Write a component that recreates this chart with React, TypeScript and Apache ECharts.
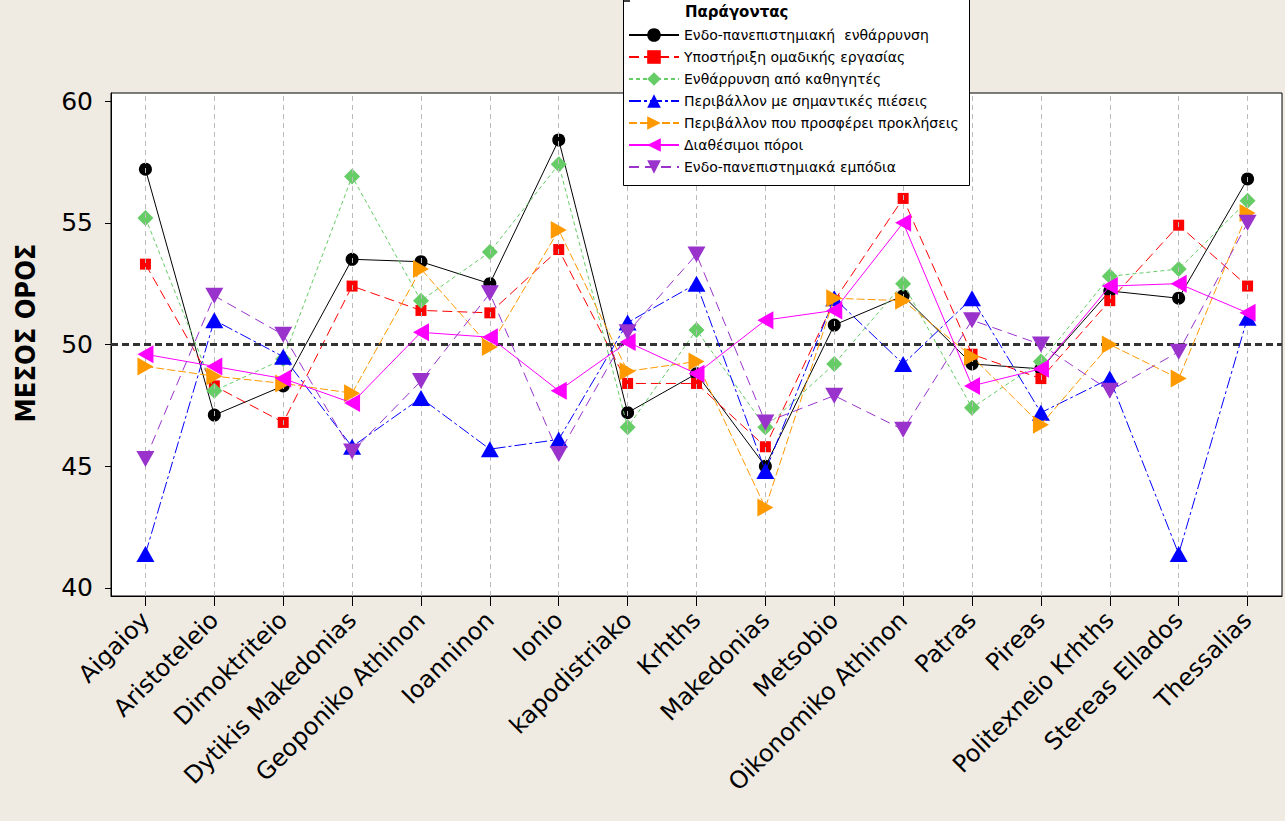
import React, { useEffect, useRef } from "react";
import * as echarts from "echarts";

const categories = [
  "Aigaioy", "Aristoteleio", "Dimoktriteio", "Dytikis Makedonias", "Geoponiko Athinon",
  "Ioanninon", "Ionio", "kapodistriako", "Krhths", "Makedonias", "Metsobio",
  "Oikonomiko Athinon", "Patras", "Pireas", "Politexneio Krhths", "Stereas Ellados", "Thessalias",
];

const seriesNames = [
  "Ενδο-πανεπιστημιακή  ενθάρρυνση",
  "Υποστήριξη ομαδικής εργασίας",
  "Ενθάρρυνση από καθηγητές",
  "Περιβάλλον με σημαντικές πιέσεις",
  "Περιβάλλον που προσφέρει προκλήσεις",
  "Διαθέσιμοι πόροι",
  "Ενδο-πανεπιστημιακά εμπόδια",
];

const encouragementInternal = [57.2, 47.1, 48.3, 53.5, 53.4, 52.5, 58.4, 47.2, 48.8, 45.0, 50.8, 52.0, 49.2, 49.0, 52.2, 51.9, 56.8];
const teamworkSupport = [53.3, 48.3, 46.8, 52.4, 51.4, 51.3, 53.9, 48.4, 48.4, 45.8, 51.8, 56.0, 49.6, 48.6, 51.8, 54.9, 52.4];
const professorEncouragement = [55.2, 48.1, 49.4, 56.9, 51.8, 53.8, 57.4, 46.6, 50.6, 46.6, 49.2, 52.5, 47.4, 49.3, 52.8, 53.1, 55.9];
const pressureEnvironment = [41.4, 51.0, 49.5, 45.8, 47.8, 45.7, 46.1, 50.9, 52.5, 44.8, 51.9, 49.2, 51.9, 47.2, 48.6, 41.4, 51.1];
const challengeEnvironment = [49.1, 48.7, 48.4, 48.0, 53.1, 49.9, 54.7, 48.9, 49.3, 43.3, 51.9, 51.8, 49.5, 46.7, 50.0, 48.6, 55.4];
const availableResources = [49.6, 49.1, 48.6, 47.6, 50.5, 50.3, 48.1, 50.1, 48.8, 51.0, 51.4, 55.0, 48.3, 49.0, 52.4, 52.5, 51.3];
const internalObstacles = [45.3, 52.0, 50.4, 45.6, 48.5, 52.1, 45.5, 50.5, 53.7, 46.8, 47.9, 46.5, 51.0, 50.0, 48.1, 49.7, 55.0];

const yTickValues = [40, 45, 50, 55, 60];
const referenceValue = 50;

const seriesValues = [
  encouragementInternal, teamworkSupport, professorEncouragement, pressureEnvironment,
  challengeEnvironment, availableResources, internalObstacles,
];

const styles = [
  { color: "#000000", symbol: "circle", size: 13, rotate: 0, dash: "solid" as any },
  { color: "#FF0000", symbol: "rect", size: 11, rotate: 0, dash: [10, 5] },
  { color: "#66CC66", symbol: "diamond", size: 16, rotate: 0, dash: [4, 3] },
  { color: "#0000FF", symbol: "triangle", size: [18, 16], rotate: 0, dash: [12, 3, 3, 3] },
  { color: "#FF9900", symbol: "triangle", size: [18, 16], rotate: -90, dash: [8, 3] },
  { color: "#FF00FF", symbol: "triangle", size: [18, 16], rotate: 90, dash: "solid" },
  { color: "#9933CC", symbol: "triangle", size: [18, 16], rotate: 180, dash: [10, 6] },
];

const FONT = "'DejaVu Sans', Verdana, sans-serif";

export default function App() {
  const ref = useRef<HTMLDivElement>(null);
  useEffect(() => {
    if (!ref.current) return;
    const chart = echarts.init(ref.current, undefined, { renderer: "svg" });
    const series: any[] = [
      {
        name: "__grid",
        type: "line",
        data: [],
        silent: true,
        z: 1,
        markLine: {
          silent: true,
          symbol: ["none", "none"],
          label: { show: false },
          animation: false,
          lineStyle: { color: "#BBBBBB", type: [5, 4], width: 1 },
          data: categories.map((c) => ({ xAxis: c })),
        },
      },
      {
        name: "__ref",
        type: "line",
        data: [],
        silent: true,
        z: 1,
        markLine: {
          silent: true,
          symbol: ["none", "none"],
          label: { show: false },
          animation: false,
          lineStyle: { color: "#333333", type: [7, 4], width: 3 },
          data: [{ yAxis: referenceValue }],
        },
      },
    ];
    seriesNames.forEach((name, i) => {
      const s = styles[i];
      series.push({
        name,
        type: "line",
        data: seriesValues[i],
        symbol: s.symbol,
        symbolSize: s.size,
        symbolRotate: s.rotate,
        showAllSymbol: true,
        z: 2 + i,
        itemStyle: { color: s.color, borderWidth: 0 },
        lineStyle: { color: s.color, width: 1, type: s.dash },
        emphasis: { disabled: true },
      });
    });
    chart.setOption({
      animation: false,
      backgroundColor: "#EFEBE2",
      grid: {
        left: 111,
        right: 3,
        top: 93,
        bottom: 225,
        show: true,
        backgroundColor: "#FFFFFF",
        borderColor: "#000000",
        borderWidth: 1,
        containLabel: false,
      },
      xAxis: {
        type: "category",
        data: categories,
        boundaryGap: true,
        axisLine: { show: true, lineStyle: { color: "#000000", width: 1 } },
        axisTick: { show: true, alignWithLabel: true, length: 10, lineStyle: { color: "#000000" } },
        axisLabel: {
          interval: 0,
          rotate: 45,
          margin: 20,
          fontSize: 24,
          fontFamily: FONT,
          color: "#000000",
        },
        splitLine: { show: false },
      },
      yAxis: {
        type: "value",
        min: 39.67,
        max: 60.33,
        axisLine: { show: true, lineStyle: { color: "#000000", width: 1 } },
        axisTick: { show: true, length: 6, customValues: yTickValues, lineStyle: { color: "#000000" } },
        axisLabel: {
          customValues: yTickValues,
          margin: 18,
          fontSize: 25,
          fontFamily: FONT,
          color: "#000000",
        },
        splitLine: { show: false },
      },
      legend: {
        data: seriesNames,
        orient: "vertical",
        left: 623,
        top: 23,
        itemWidth: 50,
        itemHeight: 17,
        itemGap: 8,
        z: 20,
        selectedMode: false,
        textStyle: { fontSize: 14, fontFamily: FONT, color: "#000000", lineHeight: 14 },
      },
      graphic: [
        {
          type: "rect",
          z: 15,
          shape: { x: 623.5, y: -2, width: 346, height: 187.5 },
          style: { fill: "#FFFFFF", stroke: "#000000", lineWidth: 1 },
        },
        {
          type: "line",
          z: 16,
          shape: { x1: 623, y1: 1, x2: 630, y2: 1 },
          style: { stroke: "#000000", lineWidth: 1.5 },
        },
        {
          type: "text",
          z: 16,
          x: 685,
          y: 12,
          style: {
            text: "Παράγοντας",
            font: "bold 15px 'DejaVu Sans', sans-serif",
            fill: "#000000",
            textAlign: "left",
            textVerticalAlign: "middle",
          },
        },
        {
          type: "text",
          z: 16,
          x: 25,
          y: 333,
          rotation: Math.PI / 2,
          style: {
            text: "ΜΕΣΟΣ ΟΡΟΣ",
            font: "bold 27px 'DejaVu Sans Condensed', 'DejaVu Sans', sans-serif",
            fill: "#000000",
            textAlign: "center",
            textVerticalAlign: "middle",
          },
        },
      ],
      series,
    });
    return () => chart.dispose();
  }, []);
  return (
    <div
      ref={ref}
      style={{ position: "fixed", left: 0, top: 0, width: 1285, height: 821 }}
    />
  );
}
